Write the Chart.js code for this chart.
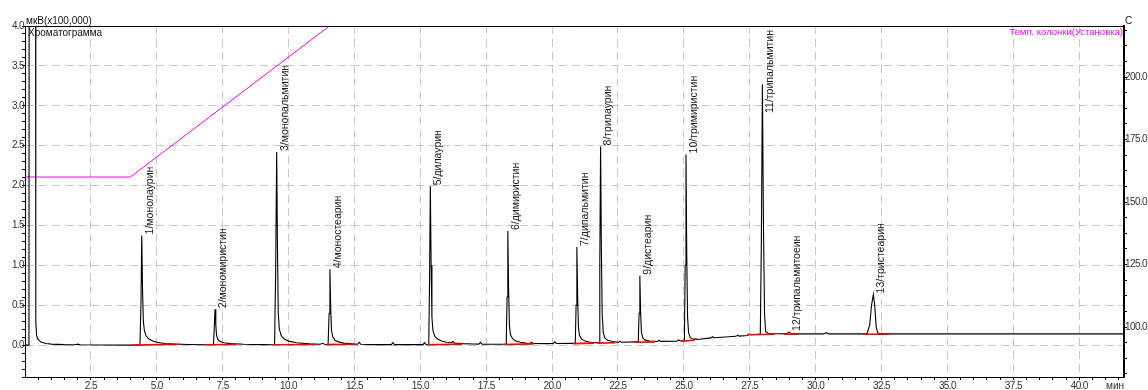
<!DOCTYPE html>
<html>
<head>
<meta charset="utf-8">
<script src="https://cdn.jsdelivr.net/npm/chart.js@4.4.1/dist/chart.umd.min.js"></script>
<style>
html, body { margin: 0; padding: 0; background: #fff; }
#wrap { width: 1148px; height: 390px; position: relative; }
</style>
</head>
<body>
<div id="wrap"><canvas id="chart_chromatogram"></canvas></div>
<script>
// detector trace: [time (min), signal (x100,000 мкВ)]
var tracePoints = [
  [0, 0], [0.15, 0], [0.16, 6], [0.40, 6], [0.41, 0.3], [0.44, 0.12], [0.48, 0.08], [0.54, 0.055], [0.62, 0.035],
  [0.8, 0.02], [1.0, 0.012], [1.5, 0.006], [1.9, 0.005], [2.0, 0.012], [2.1, 0.005], [3.0, 0.002], [4.0, 0],
  [4.36, 0], [4.40, 0.5], [4.43, 1.375], [4.46, 0.7], [4.49, 0.3], [4.53, 0.18], [4.60, 0.11], [4.70, 0.075],
  [4.85, 0.05], [5.0, 0.035], [5.3, 0.02], [5.7, 0.012], [6.2, 0.008], [7.0, 0.005],
  [7.15, 0.005], [7.18, 0.2], [7.21, 0.45], [7.24, 0.25], [7.27, 0.12], [7.32, 0.07], [7.40, 0.045], [7.55, 0.03],
  [7.8, 0.018], [8.3, 0.01], [9.0, 0.006],
  [9.47, 0.005], [9.51, 0.9], [9.55, 2.42], [9.58, 1.2], [9.61, 0.4], [9.65, 0.2], [9.72, 0.12], [9.82, 0.08],
  [10.0, 0.05], [10.3, 0.03], [10.8, 0.015], [11.2, 0.01], [11.3, 0.022], [11.36, 0.01],
  [11.50, 0.008], [11.54, 0.4], [11.57, 0.95], [11.60, 0.45], [11.63, 0.18], [11.68, 0.1], [11.76, 0.06], [11.9, 0.04],
  [12.1, 0.025], [12.4, 0.015], [12.62, 0.01], [12.68, 0.035], [12.74, 0.01], [13.3, 0.006], [13.9, 0.006],
  [13.96, 0.03], [14.02, 0.006], [15.1, 0.006], [15.16, 0.03], [15.22, 0.006],
  [15.32, 0.006], [15.35, 0.8], [15.38, 1.99], [15.41, 1.0], [15.44, 0.35], [15.48, 0.18], [15.55, 0.11], [15.65, 0.075],
  [15.8, 0.05], [16.0, 0.035], [16.18, 0.03], [16.24, 0.045], [16.3, 0.025], [16.6, 0.018], [17.0, 0.013],
  [17.22, 0.012], [17.28, 0.035], [17.34, 0.012], [18.0, 0.01],
  [18.26, 0.01], [18.29, 0.6], [18.32, 1.43], [18.35, 0.7], [18.38, 0.25], [18.42, 0.13], [18.5, 0.08], [18.6, 0.055],
  [18.8, 0.035], [19.0, 0.025], [19.16, 0.02], [19.22, 0.035], [19.28, 0.02], [19.8, 0.018], [20.04, 0.02],
  [20.1, 0.04], [20.16, 0.02], [20.7, 0.022],
  [20.88, 0.022], [20.91, 0.5], [20.94, 1.23], [20.97, 0.6], [21.0, 0.22], [21.04, 0.12], [21.12, 0.075],
  [21.25, 0.05], [21.45, 0.035], [21.7, 0.03],
  [21.78, 0.03], [21.81, 1.0], [21.84, 2.49], [21.87, 1.2], [21.9, 0.4], [21.94, 0.16], [22.0, 0.09], [22.1, 0.06],
  [22.3, 0.045], [22.52, 0.035], [22.57, 0.05], [22.63, 0.035], [23.2, 0.04],
  [23.27, 0.04], [23.30, 0.4], [23.33, 0.87], [23.36, 0.4], [23.39, 0.16], [23.44, 0.09], [23.52, 0.065], [23.7, 0.05],
  [24.0, 0.045], [24.06, 0.06], [24.12, 0.046], [24.74, 0.05], [24.8, 0.065], [24.86, 0.052], [25.0, 0.055],
  [25.02, 0.055], [25.05, 1.0], [25.08, 2.39], [25.11, 1.1], [25.14, 0.35], [25.18, 0.15], [25.25, 0.09], [25.39, 0.07],
  [25.45, 0.08], [25.51, 0.07], [26.03, 0.09], [26.09, 0.105], [26.15, 0.092], [26.98, 0.11], [27.04, 0.125],
  [27.1, 0.112], [27.42, 0.12], [27.48, 0.14], [27.54, 0.13], [27.85, 0.135],
  [27.90, 0.135], [27.94, 1.3], [27.98, 3.27], [28.02, 1.5], [28.06, 0.4], [28.1, 0.17], [28.2, 0.145],
  [28.9, 0.14], [28.99, 0.165], [29.08, 0.14], [30.3, 0.14], [30.4, 0.155], [30.5, 0.14], [31.9, 0.14],
  [31.95, 0.145], [32.05, 0.25], [32.12, 0.5], [32.19, 0.635], [32.24, 0.5], [32.3, 0.22], [32.36, 0.15],
  [32.45, 0.14], [41.7, 0.14]
];

// integrated peaks
var peakTimes = [4.43, 7.21, 9.55, 11.57, 15.38, 18.32, 20.94, 21.84, 23.33, 25.08, 27.98, 28.99, 32.19];
var peakHeights = [1.375, 0.45, 2.42, 0.95, 1.99, 1.43, 1.23, 2.49, 0.87, 2.39, 3.27, 0.165, 0.635];
var peakNames = [
  '1/монолаурин', '2/мономиристин', '3/монопальмитин', '4/моностеарин', '5/дилаурин',
  '6/димиристин', '7/дипальмитин', '8/трилаурин', '9/дистеарин', '10/тримиристин',
  '11/трипальмитин', '12/трипальмитоеин', '13/тристеарин'
];

// integration baselines: [start time, start level, end time, end level]
var baselineSegments = [
  [4.05, 0.0, 5.88, 0.01], [6.8, 0.004, 8.0, 0.008], [9.4, 0.004, 11.0, 0.008], [11.45, 0.006, 12.5, 0.01],
  [15.25, 0.004, 16.58, 0.012], [18.15, 0.008, 19.3, 0.015], [20.8, 0.018, 21.6, 0.025], [21.7, 0.025, 22.4, 0.03],
  [23.1, 0.035, 23.9, 0.04], [24.9, 0.05, 25.4, 0.06], [27.4, 0.13, 28.45, 0.135], [28.8, 0.135, 29.3, 0.135],
  [31.78, 0.135, 32.79, 0.135]
];

// column temperature program (setpoint), C
var tempTimes = [0, 4, 24, 41.7];
var tempValues = [160, 160, 320, 320];

var xTickLabels = [2.5, 5.0, 7.5, 10.0, 12.5, 15.0, 17.5, 20.0, 22.5, 25.0, 27.5, 30.0, 32.5, 35.0, 37.5, 40.0];
var yTickLabels = [0.0, 0.5, 1.0, 1.5, 2.0, 2.5, 3.0, 3.5, 4.0];
var y2TickLabels = [100.0, 125.0, 150.0, 175.0, 200.0];

var TICK_FONT = { family: '"Liberation Sans", Arial, sans-serif', size: 10 };
var GRID_GRAY = '#c8c8c8';

function isMajor(list, v) {
  return list.some(function(m) { return Math.abs(m - v) < 1e-6; });
}

function withMinor(list, step, from, to) {
  var out = [];
  var n = Math.round((to - from) / step);
  for (var i = 0; i <= n; i++) {
    var v = Math.round((from + i * step) * 1000) / 1000;
    out.push({ value: v, major: isMajor(list, v) });
  }
  return out;
}

var baselineData = [];
baselineSegments.forEach(function(s) {
  baselineData.push({ x: s[0], y: s[1] }, { x: s[2], y: s[3] }, { x: s[2] + 0.001, y: null });
});

var decorPlugin = {
  id: 'decor',
  beforeDraw: function(chart) {
    // tick labels of the original are tightly spaced
    chart.ctx.letterSpacing = '-0.6px';
  },
  afterDraw: function(chart) {
    var ctx = chart.ctx, area = chart.chartArea;
    var xs = chart.scales.x, ys = chart.scales.y;
    ctx.save();
    ctx.letterSpacing = '0px';
    ctx.strokeStyle = '#000';
    ctx.lineWidth = 1;
    ctx.beginPath();
    ctx.moveTo(area.left, area.top + 0.5);
    ctx.lineTo(area.right, area.top + 0.5);
    ctx.stroke();

    ctx.font = '10px "Liberation Sans", Arial, sans-serif';
    ctx.textBaseline = 'middle';
    ctx.fillStyle = '#111';
    ctx.textAlign = 'left';
    ctx.fillText('мкВ(x100,000)', area.left + 1, area.top - 5);
    ctx.fillText('Хроматограмма', area.left + 3, area.top + 7);
    ctx.fillText('С', area.right + 1, area.top - 5);
    ctx.fillStyle = '#ff00ff';
    ctx.textAlign = 'right';
    ctx.font = '9.5px "Liberation Sans", Arial, sans-serif';
    ctx.fillText('Темп. колонки(Установка)', area.right - 1, area.top + 6);

    ctx.font = '10px "Liberation Sans", Arial, sans-serif';
    ctx.fillStyle = '#333';
    ctx.textAlign = 'center';
    ctx.fillText('мин', area.right - 9, area.bottom + 9);

    // peak names, rotated, starting at the apex, kept inside the plot
    ctx.font = '10.5px "Liberation Sans", Arial, sans-serif';
    ctx.fillStyle = '#1a1a1a';
    ctx.textAlign = 'left';
    for (var i = 0; i < peakNames.length; i++) {
      var w = ctx.measureText(peakNames[i]).width;
      var px = xs.getPixelForValue(peakTimes[i]) + 8;
      var py = Math.max(ys.getPixelForValue(peakHeights[i]) - 1, area.top + 4 + w);
      ctx.save();
      ctx.translate(px, py);
      ctx.rotate(-Math.PI / 2);
      ctx.fillText(peakNames[i], 0, 0);
      ctx.restore();
    }
    ctx.restore();
  }
};

var chart_chromatogram = new Chart(document.getElementById('chart_chromatogram'), {
  type: 'line',
  data: {
    datasets: [
      {
        label: 'baseline',
        data: baselineData,
        borderColor: '#ff0000',
        borderWidth: 1.6,
        pointRadius: 0,
        spanGaps: false,
        yAxisID: 'y',
        order: 0
      },
      {
        label: 'Хроматограмма',
        data: tracePoints.map(function(p) { return { x: p[0], y: p[1] }; }),
        borderColor: '#000',
        borderWidth: 1.1,
        pointRadius: 0,
        tension: 0,
        yAxisID: 'y',
        order: 1
      },
      {
        label: 'Темп. колонки(Установка)',
        data: tempTimes.map(function(t, i) { return { x: t, y: tempValues[i] }; }),
        borderColor: '#ff00ff',
        borderWidth: 1,
        pointRadius: 0,
        yAxisID: 'y2',
        order: 2
      }
    ]
  },
  options: {
    animation: false,
    responsive: true,
    maintainAspectRatio: false,
    layout: { padding: { top: 26, left: 0, right: 0, bottom: 0 } },
    plugins: {
      legend: { display: false },
      tooltip: { enabled: false }
    },
    scales: {
      x: {
        type: 'linear',
        position: 'bottom',
        min: 0,
        max: 41.7,
        afterBuildTicks: function(s) { s.ticks = withMinor(xTickLabels, 0.5, 0.5, 41.5); },
        afterFit: function(s) { s.height = 13; },
        ticks: {
          autoSkip: false,
          maxRotation: 0,
          padding: 0,
          color: '#333',
          font: TICK_FONT,
          callback: function(v) { return isMajor(xTickLabels, v) ? v.toFixed(1) : ''; }
        },
        grid: {
          color: function(c) { return c.tick && c.tick.major ? GRID_GRAY : 'rgba(0,0,0,0)'; },
          tickColor: '#000',
          tickLength: 3,
          lineWidth: 1
        },
        border: { display: true, color: '#000', width: 1, dash: [8, 5] }
      },
      y: {
        type: 'linear',
        position: 'left',
        min: -0.4,
        max: 4.0,
        afterBuildTicks: function(s) { s.ticks = withMinor(yTickLabels, 0.1, -0.4, 4.0); },
        afterFit: function(s) { s.width = 25; },
        ticks: {
          autoSkip: false,
          padding: -2,
          color: '#333',
          font: TICK_FONT,
          callback: function(v) { return isMajor(yTickLabels, v) ? v.toFixed(1) : ''; }
        },
        grid: {
          color: function(c) { return c.tick && c.tick.major ? GRID_GRAY : 'rgba(0,0,0,0)'; },
          tickColor: '#000',
          tickLength: 3,
          lineWidth: 1
        },
        border: { display: true, color: '#000', width: 1, dash: [8, 5] }
      },
      y2: {
        type: 'linear',
        position: 'right',
        min: 80,
        max: 220.4,
        afterBuildTicks: function(s) { s.ticks = withMinor(y2TickLabels, 6.25, 81.25, 218.75); },
        afterFit: function(s) { s.width = 24; },
        ticks: {
          autoSkip: false,
          padding: -2,
          color: '#333',
          font: TICK_FONT,
          callback: function(v) { return isMajor(y2TickLabels, v) ? v.toFixed(1) : ''; }
        },
        grid: {
          drawOnChartArea: false,
          tickColor: '#000',
          tickLength: 3
        },
        border: { display: true, color: '#000', width: 2 }
      }
    }
  },
  plugins: [decorPlugin]
});
</script>
</body>
</html>
